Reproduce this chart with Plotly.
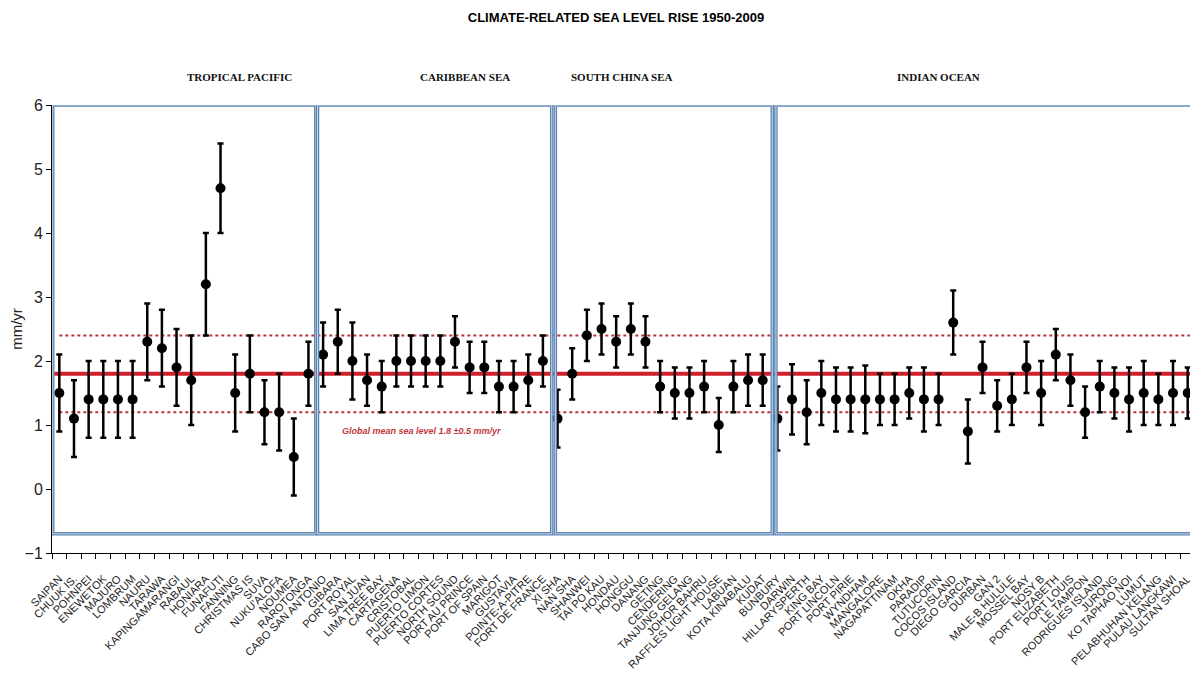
import plotly.graph_objects as go

# tide gauge stations, grouped by region
pacific = ["SAIPAN", "CHUUK IS.", "POHNPEI", "ENEWETOK", "MAJURO", "LOMBRUM", "NAURU", "TARAWA",
           "KAPINGAMARANGI", "RABAUL", "HONIARA", "FUNAFUTI", "FANNING", "CHRISTMAS IS", "SUVA",
           "NUKU'ALOFA", "NOUMEA", "RAROTONGA"]
caribbean = ["CABO SAN ANTONIO", "GIBARA", "PORT ROYAL", "SAN JUAN", "LIMA TREE BAY", "CARTAGENA",
             "CRISTOBAL", "PUERTO LIMON", "PUERTO CORTES", "NORTH SOUND", "PORT AU PRINCE",
             "PORT OF SPAIN", "MARIGOT", "GUSTAVIA", "POINTE-A-PITRE", "FORT DE FRANCE"]
south_china = ["XI SHA", "NAN SHA", "SHANWEI", "TAI PO KAU", "HONDAU", "HONGGU", "DANANG", "GETING",
               "CENDERING", "TANJUNG GELANG", "JOHOR BAHRU", "RAFFLES LIGHT HOUSE", "LABUAN",
               "KOTA KINABALU", "KUDAT"]
indian = ["BUNBURY", "DARWIN", "HILLARYSPERTH", "KING BAY", "PORT LINCOLN", "PORT PIRIE", "WYNDHAM",
          "MANGALORE", "NAGAPATTINAM", "OKHA", "PARADIP", "TUTUCORIN", "COCOS ISLAND", "DIEGO GARCIA",
          "DURBAN", "GAN 2", "MALE-B HULULE", "MOSSEL BAY", "NOSY B", "PORT ELIZABETH", "PORT LOUIS",
          "LE TAMPON", "RODRIGUES ISLAND", "JURONG", "KO TAPHAO NOI", "LUMUT", "PELABHUHAN KELANG",
          "PULAU LANGKAWI", "SULTAN SHOAL"]

# rates (mm/yr) and error
pacific_rate = [1.5, 1.1, 1.4, 1.4, 1.4, 1.4, 2.3, 2.2, 1.9, 1.7, 3.2, 4.7, 1.5, 1.8, 1.2, 1.2, 0.5, 1.8]
pacific_err = [0.6, 0.6, 0.6, 0.6, 0.6, 0.6, 0.6, 0.6, 0.6, 0.7, 0.8, 0.7, 0.6, 0.6, 0.5, 0.6, 0.6, 0.5]
caribbean_rate = [2.1, 2.3, 2.0, 1.7, 1.6, 2.0, 2.0, 2.0, 2.0, 2.3, 1.9, 1.9, 1.6, 1.6, 1.7, 2.0]
caribbean_err = [0.5, 0.5, 0.6, 0.4, 0.4, 0.4, 0.4, 0.4, 0.4, 0.4, 0.4, 0.4, 0.4, 0.4, 0.4, 0.4]
south_china_rate = [1.1, 1.8, 2.4, 2.5, 2.3, 2.5, 2.3, 1.6, 1.5, 1.5, 1.6, 1.0, 1.6, 1.7, 1.7]
south_china_err = [0.45, 0.4, 0.4, 0.4, 0.4, 0.4, 0.4, 0.4, 0.4, 0.4, 0.4, 0.42, 0.4, 0.4, 0.4]
indian_rate = [1.1, 1.4, 1.2, 1.5, 1.4, 1.4, 1.4, 1.4, 1.4, 1.5, 1.4, 1.4, 2.6, 0.9, 1.9, 1.3, 1.4,
               1.9, 1.5, 2.1, 1.7, 1.2, 1.6, 1.5, 1.4, 1.5, 1.4, 1.5, 1.5]
indian_err = [0.5, 0.55, 0.5, 0.5, 0.5, 0.5, 0.53, 0.4, 0.4, 0.4, 0.5, 0.4, 0.5, 0.5, 0.4, 0.4, 0.4,
              0.4, 0.5, 0.4, 0.4, 0.4, 0.4, 0.4, 0.5, 0.5, 0.4, 0.5, 0.4]

region_names = ["TROPICAL PACIFIC", "CARIBBEAN SEA", "SOUTH CHINA SEA", "INDIAN OCEAN"]
global_mean = 1.8
band = [1.2, 2.4]

stations = pacific + caribbean + south_china + indian
rates = pacific_rate + caribbean_rate + south_china_rate + indian_rate
errs = pacific_err + caribbean_err + south_china_err + indian_err

# the page body adds an 8px offset, so figure pixels = screen pixels - 8
W, H = 1198, 684
OFF = 8
L, R, T, B = 52 - OFF, W - (1195 - OFF), 105 - OFF, H - (553 - OFF)
plot_w = W - L - R
plot_h = H - T - B

fig = go.Figure()
fig.add_trace(go.Scatter(
    x=stations, y=rates, mode="markers",
    marker=dict(color="black", size=10),
    error_y=dict(type="data", array=errs, visible=True, color="black", thickness=2.5, width=3),
    showlegend=False, cliponaxis=False,
))

# region boxes
n1 = len(pacific)
n2 = n1 + len(caribbean)
n3 = n2 + len(south_china)
n4 = n3 + len(indian)
box_x = [(-0.45, n1 - 0.5), (n1 - 0.38, n2 - 0.4), (n2 - 0.15, n3 - 0.35), (n3 - 0.1, n4 - 0.55)]
for x0, x1 in box_x:
    fig.add_shape(type="rect", xref="x", yref="y", x0=x0, x1=x1, y0=-0.7, y1=6,
                  line=dict(color="#5f86b3", width=3.5), layer="above")
    fig.add_shape(type="rect", xref="x", yref="y", x0=x0, x1=x1, y0=-0.7, y1=6,
                  line=dict(color="#c7d6e8", width=1), layer="above")

# global mean + band
fig.add_shape(type="line", xref="x", yref="y", x0=-0.35, x1=n4 - 0.5, y0=global_mean, y1=global_mean,
              line=dict(color="#d0202a", width=4), layer="below")
for b in band:
    fig.add_shape(type="line", xref="x", yref="y", x0=0, x1=n4 - 0.5, y0=b, y1=b,
                  line=dict(color="#b8343a", width=2, dash="dot"), layer="below")

fig.add_annotation(x=24.7, y=0.9, xref="x", yref="y", showarrow=False,
                   text="<i><b>Global mean sea level 1.8 \u00b10.5 mm/yr</b></i>",
                   font=dict(family="Liberation Sans Narrow, Arial Narrow, Arial", size=9, color="#c0393b"))

# region titles, placed from screen pixel positions
label_px = [185, 418, 622, 982]
for name, px in zip(region_names, label_px):
    fig.add_annotation(x=(px - OFF - L) / plot_w, y=(H - B - (77 - OFF)) / plot_h, xref="paper", yref="paper",
                       showarrow=False, text="<b>" + name + "</b>", yanchor="middle",
                       font=dict(family="Liberation Serif, Times New Roman, serif", size=11, color="#111"))

fig.update_layout(
    width=W, height=H,
    margin=dict(l=L, r=R, t=T, b=B, autoexpand=False),
    plot_bgcolor="white", paper_bgcolor="white",
    title=dict(text="<b>CLIMATE-RELATED SEA LEVEL RISE 1950-2009</b>", x=(616 - OFF) / W, xanchor="center",
               y=1 - (17 - OFF) / H, yanchor="middle",
               font=dict(family="Arial, Liberation Sans", size=13, color="black")),
    font=dict(family="Arial, Liberation Sans", color="#222"),
)
fig.update_xaxes(
    type="category", range=[-0.5, n4 - 0.5], showline=True, linecolor="black", linewidth=1,
    ticks="outside", ticklen=5, tickcolor="black", tickson="boundaries", tickangle=-45,
    ticklabelstandoff=14,
    tickfont=dict(size=11, color="#222"), showgrid=False, zeroline=False, automargin=False,
)
fig.update_yaxes(
    range=[-1, 6], dtick=1, showline=True, linecolor="black", linewidth=1,
    ticks="outside", ticklen=5, tickcolor="black", tickfont=dict(size=16, color="#222"),
    title=dict(text="mm/yr", font=dict(size=15, color="#222"), standoff=0),
    showgrid=False, zeroline=False, automargin=False,
)

fig.write_html("out.html")
